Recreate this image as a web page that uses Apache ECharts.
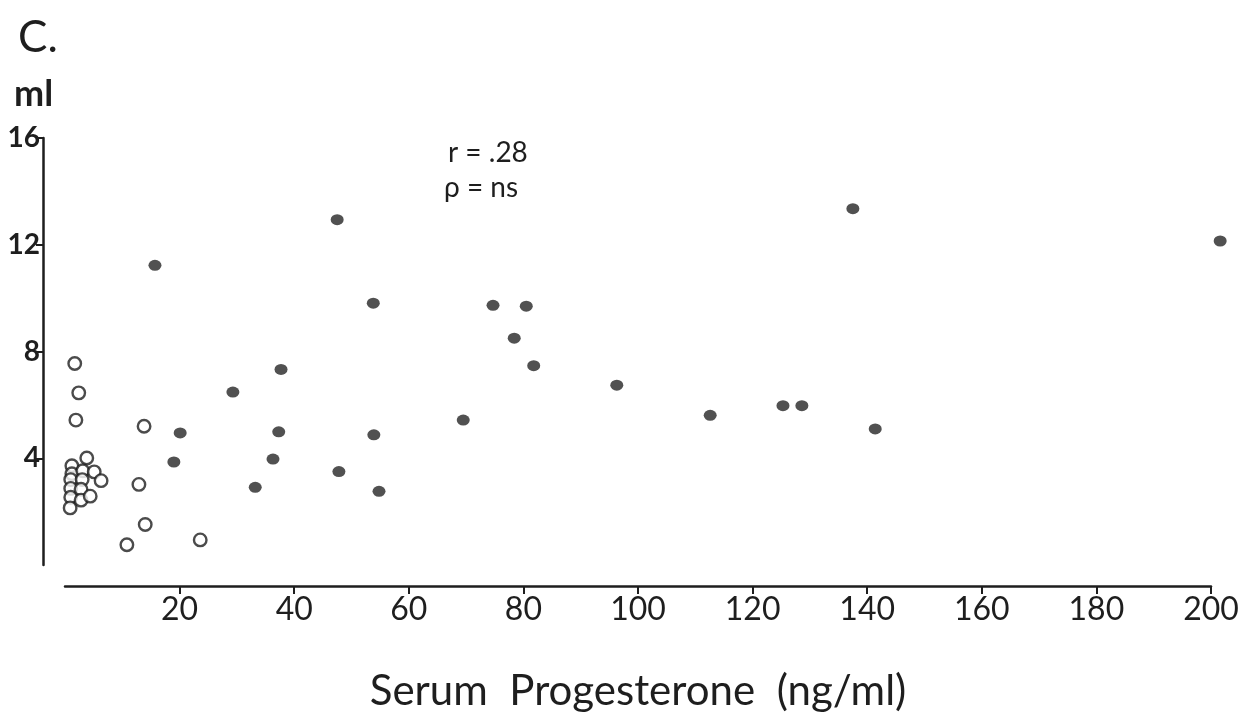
<!DOCTYPE html>
<html>
<head>
<meta charset="utf-8">
<script src="https://cdn.jsdelivr.net/npm/echarts@6/dist/echarts.min.js"></script>
<style>
  html, body { margin: 0; padding: 0; background: #fff; }
  #chart { width: 1251px; height: 717px; }
</style>
</head>
<body>
<div id="chart"></div>
<script>
// Serum progesterone (ng/ml) against volume (ml)
const xTicks = [20, 40, 60, 80, 100, 120, 140, 160, 180, 200];
const yTicks = [4, 8, 12, 16];

// open circles: [progesterone, ml]
const openX = [1.7, 2.4, 1.9, 13.8, 3.8, 1.2, 1.2, 1.0, 1.0, 1.0, 0.9, 3.1, 3.0, 2.8, 2.8, 5.1, 4.4, 6.3, 12.9, 14.0, 10.8, 23.6];
const openY = [7.55, 6.45, 5.43, 5.2, 4.01, 3.72, 3.42, 3.20, 2.87, 2.54, 2.14, 3.53, 3.20, 2.84, 2.43, 3.49, 2.58, 3.16, 3.02, 1.52, 0.76, 0.94];

// filled dots: [progesterone, ml]
const filledX = [15.7, 47.5, 53.8, 74.7, 80.5, 78.4, 81.8, 96.3, 29.3, 37.7, 20.1, 37.3, 53.9, 69.5, 19.0, 36.3, 47.8, 33.2, 54.8, 112.6, 125.3, 128.6, 137.5, 141.4, 201.6];
const filledY = [11.23, 12.94, 9.81, 9.73, 9.70, 8.50, 7.47, 6.74, 6.48, 7.33, 4.95, 4.99, 4.88, 5.43, 3.86, 3.97, 3.50, 2.91, 2.76, 5.61, 5.97, 5.97, 13.35, 5.10, 12.14];

const statLines = ['r = .28', 'ρ = ns'];

const FONT = 'Lato, "Open Sans", sans-serif';
const INK = '#1e1e1e';

const zip = (xs, ys) => xs.map((x, i) => [x, ys[i]]);

const chart = echarts.init(document.getElementById('chart'), null, { renderer: 'canvas' });
chart.setOption({
  backgroundColor: '#ffffff',
  animation: false,
  grid: { left: 65, right: 40, top: 138, bottom: 140, containLabel: false },
  xAxis: {
    type: 'value',
    min: 0, max: 200, interval: 20,
    offset: 21,
    axisLine: { show: true, onZero: false, lineStyle: { color: INK, width: 2.5 } },
    axisTick: { show: true, inside: false, length: 8, lineStyle: { color: INK, width: 2 }, customValues: xTicks },
    axisLabel: { show: true, margin: 8, fontSize: 32, color: INK, fontFamily: FONT, customValues: xTicks },
    splitLine: { show: false },
    name: 'Serum  Progesterone  (ng/ml)',
    nameLocation: 'middle',
    nameGap: 84,
    nameTextStyle: { fontSize: 42, color: INK, fontFamily: FONT }
  },
  yAxis: {
    type: 'value',
    min: 0, max: 16, interval: 4,
    offset: 22,
    axisLine: { show: true, onZero: false, lineStyle: { color: INK, width: 2.5 } },
    axisTick: { show: true, inside: false, length: 7, lineStyle: { color: INK, width: 2 }, customValues: yTicks },
    axisLabel: { show: true, margin: 3, fontSize: 28, fontWeight: 'bold', color: INK, fontFamily: FONT, customValues: yTicks },
    splitLine: { show: false }
  },
  graphic: [
    { type: 'text', left: 18, top: 16, style: { text: 'C.', font: '44px ' + FONT, fill: INK } },
    { type: 'text', left: 14, top: 76, style: { text: 'ml', font: 'bold 36px ' + FONT, fill: INK } },
    { type: 'text', left: 448, top: 139, style: { text: statLines[0], font: '28px ' + FONT, fill: INK } },
    { type: 'text', left: 444, top: 174, style: { text: statLines[1], font: '28px ' + FONT, fill: INK } }
  ],
  series: [
    {
      type: 'scatter',
      clip: false,
      data: zip(openX, openY),
      symbol: 'circle',
      symbolSize: 12.5,
      itemStyle: { color: '#ffffff', borderColor: INK, borderWidth: 2.4 }
    },
    {
      type: 'scatter',
      clip: false,
      data: zip(filledX, filledY),
      symbol: 'circle',
      symbolSize: [13, 11],
      itemStyle: { color: '#262626' }
    }
  ]
});
</script>
</body>
</html>
